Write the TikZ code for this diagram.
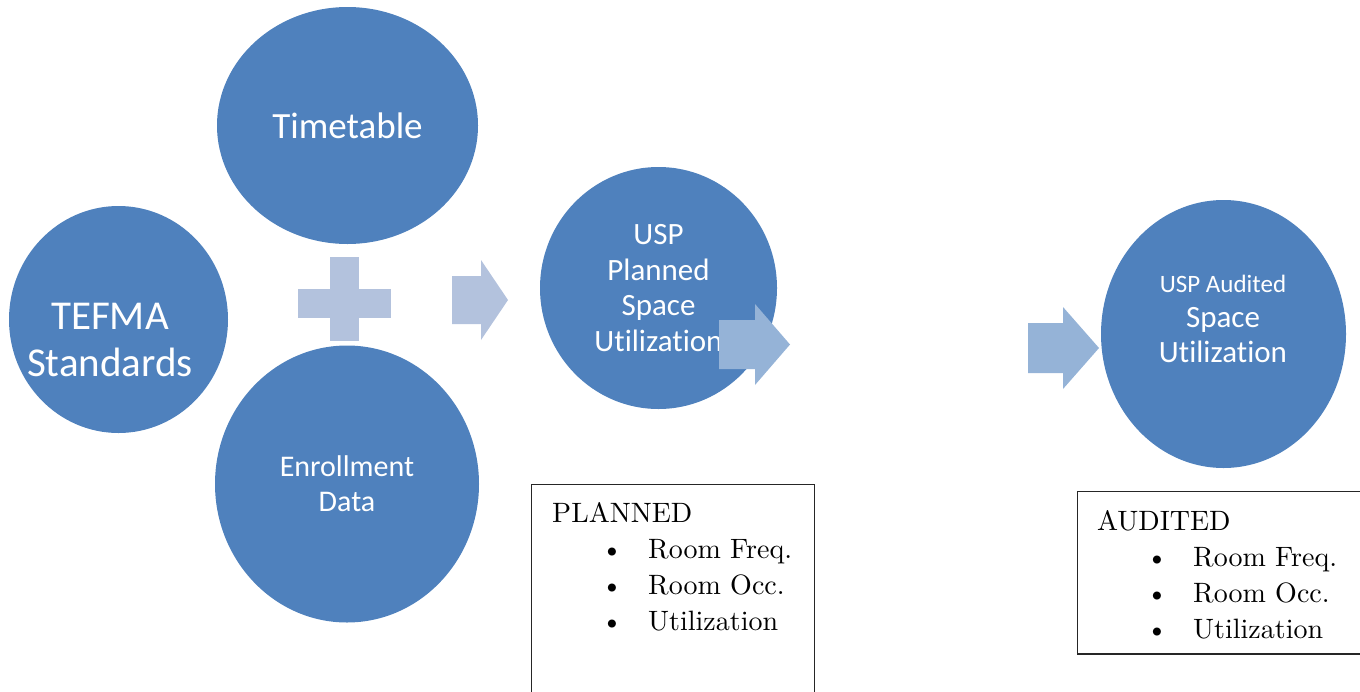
\documentclass[tikz,border=0pt]{standalone}
\usepackage{fontspec}
\usetikzlibrary{shapes.geometric}
\newfontfamily\calfont[Ligatures={NoCommon}]{Carlito}
\newfontfamily\boxfont{lmroman10-regular.otf}
\definecolor{blobblue}{HTML}{4F81BD}
\definecolor{plusblue}{HTML}{B3C2DD}
\definecolor{arrowblue}{HTML}{95B3D7}
\tikzset{
  blob/.style={ellipse, fill=blobblue, inner sep=0pt, text=white, align=center, font=\calfont},
  bloblabel/.style={inner sep=0pt, text=white, align=center, font=\calfont},
  listtext/.style={inner sep=0pt, anchor=north west, align=left, font=\boxfont\fontsize{28}{36}\selectfont},
  listbox/.style={draw=black!85, line width=1.2pt}
}
\newcommand{\bulletitem}[1]{\hspace*{49pt}\makebox[47pt][l]{\textbullet}#1}
\newcommand{\utilword}{Ut\kern0pt ilizat\kern0pt ion}
\begin{document}
\begin{tikzpicture}[x=1pt, y=-1pt]
        \useasboundingbox (0,0) rectangle (1360,691);
        \clip (0,0) rectangle (1360,691);
        % Input circles
        \node[blob, minimum width=261pt, minimum height=237pt, font=\calfont\fontsize{37}{44}\selectfont] (timetable) at (347.5,125.5) {Timetable};
        \node[blob, minimum width=219pt, minimum height=227pt] (tefma) at (118.5,319.5) {};
        \node[bloblabel, font=\calfont\fontsize{41}{47}\selectfont] (tefmatext) at (110,339.6) {TEFMA\\Standards};
        \node[blob, minimum width=264pt, minimum height=277pt, font=\calfont\fontsize{30}{35}\selectfont] (enrol) at (347,484) {Enrollment\\Data};

        % Plus sign
        \fill[plusblue] (298,289) rectangle (391,318);
        \fill[plusblue] (330,257) rectangle (359,341);

        % Result circles
        \node[blob, minimum width=237pt, minimum height=242pt, font=\calfont\fontsize{31}{35.5}\selectfont] (planned) at (658.5,288) {USP\\Planned\\Space\\\utilword};
        \node[blob, minimum width=245pt, minimum height=268pt] (audited) at (1223.5,334) {};
        \node[bloblabel, font=\calfont\fontsize{31}{35}\selectfont] (auditedtext) at (1223,319) {{\fontsize{25}{35}\selectfont USP Audited}\\Space\\\utilword};

        % Block arrows: tail/neck/tip x, mid y, half shaft, half head
        \foreach \xa/\xb/\xc/\ym/\hb/\hh/\col in {452/481/508/300/24/40/plusblue, 719/755/790/344.5/24.5/40.5/arrowblue, 1028/1063/1099/348/25/41/arrowblue} {
            \fill[\col] (\xa,\ym-\hb) -- (\xb,\ym-\hb) -- (\xb,\ym-\hh) -- (\xc,\ym)
                -- (\xb,\ym+\hh) -- (\xb,\ym+\hb) -- (\xa,\ym+\hb) -- cycle;
        }

        % Measure boxes
        \draw[listbox] (531.5,700) -- (531.5,484.5) -- (814.5,484.5) -- (814.5,700);
        \node[listtext] (plantext) at (552,501.9) {PLANNED\\\bulletitem{Room Freq.}\\\bulletitem{Room Occ.}\\\bulletitem{Utilization}};
        \draw[listbox] (1370,491.5) -- (1077.5,491.5) -- (1077.5,654) -- (1370,654);
        \node[listtext] (audittext) at (1097,509.9) {AUDITED\\\bulletitem{Room Freq.}\\\bulletitem{Room Occ.}\\\bulletitem{Utilization}};
\end{tikzpicture}
\end{document}
